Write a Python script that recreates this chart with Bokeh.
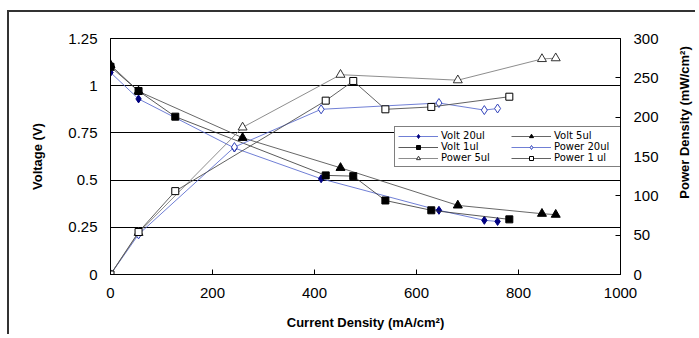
import math
from bokeh.plotting import figure
from bokeh.models import Range1d, LinearAxis, FixedTicker, Legend, LegendItem, Label
from bokeh.embed import file_html
from bokeh.resources import INLINE

# ---- data ----
cur_20 = [0, 55, 243, 413, 644, 733, 759]
volt_20 = [1.07, 0.93, 0.67, 0.507, 0.34, 0.287, 0.281]
pow_20 = [0, 51, 162, 210, 218, 209, 211]

cur_5 = [0, 55, 259, 451, 681, 846, 873]
volt_5 = [1.11, 0.97, 0.724, 0.565, 0.366, 0.322, 0.317]
pow_5 = [0, 53, 187, 254, 247, 274, 275]

cur_1 = [0, 55, 127, 422, 476, 539, 629, 782]
volt_1 = [1.10, 0.972, 0.836, 0.525, 0.521, 0.392, 0.34, 0.292]
pow_1 = [0, 54, 106, 221, 246, 210, 213, 226]

x_ticks = [0, 200, 400, 600, 800, 1000]
v_ticks = [0, 0.25, 0.5, 0.75, 1, 1.25]
v_tick_labels = ["0", "0.25", "0.5", "0.75", "1", "1.25"]
p_ticks = [0, 50, 100, 150, 200, 250, 300]

FONT = "Liberation Sans"

p = figure(width=688, height=324, x_range=Range1d(0, 1000), y_range=Range1d(0, 1.25),
           output_backend="svg", toolbar_location=None,
           min_border_left=101, min_border_right=77, min_border_top=26, min_border_bottom=62)
p.styles = {"margin-left": "7px", "margin-top": "10px",
            "border-left": "2px solid #333", "border-top": "2px solid #333"}
p.background_fill_color = "white"
p.border_fill_color = "white"
p.outline_line_color = "black"
p.outline_line_width = 1

left = p.yaxis[0]
bottom = p.xaxis[0]
bottom.ticker = FixedTicker(ticks=x_ticks)
left.ticker = FixedTicker(ticks=v_ticks)
left.major_label_overrides = {t: l for t, l in zip(v_ticks, v_tick_labels)}
bottom.axis_label = "Current Density (mA/cm²)"
left.axis_label = "Voltage (V)"

p.extra_y_ranges = {"power": Range1d(0, 300)}
right = LinearAxis(y_range_name="power", ticker=FixedTicker(ticks=p_ticks))
p.add_layout(right, "right")

for ax in [bottom, left, right]:
    ax.axis_line_color = "black"
    ax.major_tick_line_color = "black"
    ax.major_tick_in = 5
    ax.major_tick_out = 0
    ax.minor_tick_line_color = None
    ax.major_label_text_font = FONT
    ax.major_label_text_font_size = "15px"
    ax.major_label_text_color = "black"
    ax.major_label_standoff = 13
    ax.axis_label_text_font = FONT
    ax.axis_label_text_font_size = "13px"
    ax.axis_label_text_font_style = "bold"
    ax.axis_label_text_color = "black"

left.axis_label_standoff = 20
bottom.axis_label_standoff = 14

# right-hand axis title, reading bottom-to-top, in the right side panel
p.add_layout(Label(x=23, y=152, x_units="screen", y_units="screen",
                   text="Power Density (mW/cm²)", angle=90, angle_units="deg",
                   text_align="center", text_baseline="middle",
                   text_font=FONT, text_font_size="13px", text_font_style="bold",
                   text_color="black"), "right")

p.xgrid.visible = False
p.ygrid.grid_line_color = "black"
p.ygrid.grid_line_width = 1

BLUE_LINE = "#6070d0"
NAVY = "#000080"

# Voltage series
l_v20 = p.line(cur_20, volt_20, line_color=BLUE_LINE, line_width=0.9)
m_v20 = p.scatter(cur_20, volt_20, marker="diamond", size=8, fill_color=NAVY, line_color=NAVY)
l_v5 = p.line(cur_5, volt_5, line_color="#404040", line_width=0.8)
m_v5 = p.scatter(cur_5, volt_5, marker="triangle", size=9, fill_color="black", line_color="black")
l_v1 = p.line(cur_1, volt_1, line_color="#303030", line_width=0.8)
m_v1 = p.scatter(cur_1, volt_1, marker="square", size=7, fill_color="black", line_color="black")

# Power series
l_p20 = p.line(cur_20, pow_20, y_range_name="power", line_color=BLUE_LINE, line_width=0.9)
m_p20 = p.scatter(cur_20, pow_20, y_range_name="power", marker="diamond", size=9,
                  fill_color="white", line_color="#3344bb", line_width=1)
l_p5 = p.line(cur_5, pow_5, y_range_name="power", line_color="#808080", line_width=0.9)
m_p5 = p.scatter(cur_5, pow_5, y_range_name="power", marker="triangle", size=9,
                 fill_color="white", line_color="#333333", line_width=1)
l_p1 = p.line(cur_1, pow_1, y_range_name="power", line_color="#505050", line_width=0.9)
m_p1 = p.scatter(cur_1, pow_1, y_range_name="power", marker="square", size=7,
                 fill_color="white", line_color="black", line_width=1)

# column-major fill: rows -> (Volt 20ul, Volt 5ul), (Volt 1ul, Power 20ul), (Power 5ul, Power 1 ul)
legend = Legend(items=[
    LegendItem(label="Volt 20ul", renderers=[l_v20, m_v20]),
    LegendItem(label="Volt 1ul", renderers=[l_v1, m_v1]),
    LegendItem(label="Power 5ul", renderers=[l_p5, m_p5]),
    LegendItem(label="Volt 5ul", renderers=[l_v5, m_v5]),
    LegendItem(label="Power 20ul", renderers=[l_p20, m_p20]),
    LegendItem(label="Power 1 ul", renderers=[l_p1, m_p1]),
], location=(284, 107), ncols=2, orientation="vertical")
legend.label_text_font = "DejaVu Sans"
legend.label_text_font_size = "10px"
legend.label_text_color = "black"
legend.label_height = 10
legend.label_width = 70
legend.glyph_height = 10
legend.glyph_width = 40
legend.label_standoff = 3
legend.spacing = 0
legend.padding = 3
legend.margin = 0
legend.border_line_color = "black"
legend.border_line_width = 1
legend.background_fill_color = "white"
legend.background_fill_alpha = 1
p.add_layout(legend, "center")

open("out.html", "w").write(file_html(p, INLINE))
